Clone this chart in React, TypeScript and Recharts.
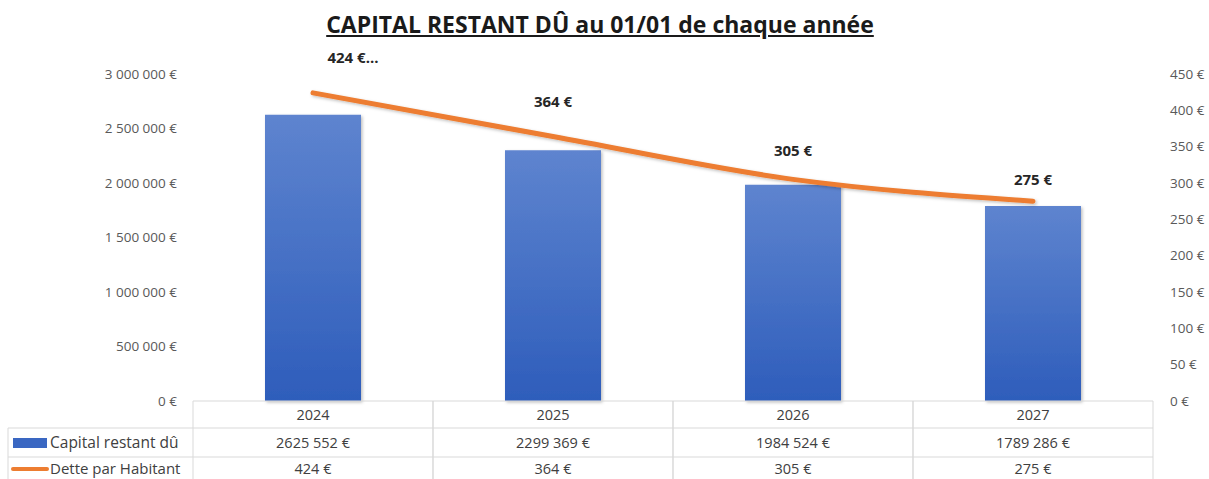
import { ComposedChart, Bar, Line, XAxis, YAxis, LabelList } from "recharts"

const years = ["2024", "2025", "2026", "2027"]
const capitalRestant = [2625552, 2299369, 1984524, 1789286]
const detteParHabitant = [424, 364, 305, 275]
const capitalTicks = [0, 500000, 1000000, 1500000, 2000000, 2500000, 3000000]
const detteTicks = [0, 50, 100, 150, 200, 250, 300, 350, 400, 450]
const capitalLabels = ["2625 552 €", "2299 369 €", "1984 524 €", "1789 286 €"]
const detteLabels = ["424 €", "364 €", "305 €", "275 €"]
const detteBubbleLabels = ["424 €...", "364 €", "305 €", "275 €"]

const data = years.map((y, i) => ({
  year: y,
  capital: capitalRestant[i],
  dette: detteParHabitant[i],
}))

const FONT = "'Open Sans', Lato, sans-serif"
const GRID = "#d9d9d9"
const BAND = 240

function groupThousands(v: number) {
  return String(v).replace(/\B(?=(\d{3})+(?!\d))/g, " ")
}

// draws the data table under the plot, one column per category tick
function TableTick(props: any) {
  const { x, y, payload, index } = props
  const left = x - BAND / 2
  const right = x + BAND / 2
  const r1 = y + 27
  const r2 = y + 56
  const bottom = y + 80
  return (
    <g>
      <line x1={left} x2={right} y1={y} y2={y} stroke={GRID} />
      <line x1={left} x2={right} y1={r1} y2={r1} stroke={GRID} />
      <line x1={left} x2={right} y1={r2} y2={r2} stroke={GRID} />
      <line x1={left} x2={left} y1={y} y2={bottom} stroke={GRID} />
      <line x1={right} x2={right} y1={y} y2={bottom} stroke={GRID} />
      <text x={x} y={y + 19} textAnchor="middle" fontSize={14.5} fill="#404040" fontFamily={FONT}>
        {payload.value}
      </text>
      <text x={x} y={r1 + 20} textAnchor="middle" fontSize={14.5} fill="#404040" fontFamily={FONT}>
        {capitalLabels[index]}
      </text>
      <text x={x} y={r2 + 17} textAnchor="middle" fontSize={14.5} fill="#404040" fontFamily={FONT}>
        {detteLabels[index]}
      </text>
      {index === 0 && (
        <g>
          <line x1={8} x2={left} y1={r1} y2={r1} stroke={GRID} />
          <line x1={8} x2={left} y1={r2} y2={r2} stroke={GRID} />
          <line x1={8} x2={8} y1={r1} y2={bottom} stroke={GRID} />
          <rect x={13} y={r1 + 10} width={34} height={10} fill="#3a67c2" />
          <text x={50} y={r1 + 20} fontSize={15.5} fill="#404040" fontFamily={FONT}>
            Capital restant dû
          </text>
          <line x1={13} x2={47} y1={r2 + 12} y2={r2 + 12} stroke="#ed7d31" strokeWidth={4} strokeLinecap="round" />
          <text x={50} y={r2 + 17} fontSize={15} fill="#404040" fontFamily={FONT}>
            Dette par Habitant
          </text>
        </g>
      )}
    </g>
  )
}

const labelNudge = [{ dx: 40, dy: -35 }, { dx: 0, dy: -34 }, { dx: 0, dy: -28 }, { dx: 0, dy: -21 }]

function DetteLabel(props: any) {
  const { x, y, index } = props
  const n = labelNudge[index] || { dx: 0, dy: -28 }
  return (
    <text x={x + n.dx} y={y + n.dy} dy={5} textAnchor="middle" fontSize={15} fontWeight="bold" fill="#262626" fontFamily={FONT}>
      {detteBubbleLabels[index]}
    </text>
  )
}

export default function App() {
  return (
    <div style={{ position: "absolute", left: 0, top: 0, width: 1209, height: 479, background: "#fff", overflow: "hidden" }}>
      <div
        style={{
          position: "absolute",
          left: 0,
          top: 8,
          width: 1200,
          textAlign: "center",
          fontFamily: FONT,
          fontWeight: "bold",
          fontSize: 23,
          color: "#1a1a1a",
          textDecoration: "underline",
        }}
      >
        CAPITAL RESTANT DÛ au 01/01 de chaque année
      </div>
      <ComposedChart
        width={1209}
        height={479}
        data={data}
        margin={{ top: 74, right: 6, bottom: 0, left: 93 }}
        style={{ position: "absolute", left: 0, top: 0 }}
      >
        <defs>
          <linearGradient id="barFill" x1="0" y1="0" x2="0" y2="1">
            <stop offset="0%" stopColor="#5e84cf" />
            <stop offset="100%" stopColor="#2e5dbb" />
          </linearGradient>
          <filter id="shadow" x="-10%" y="-10%" width="130%" height="130%">
            <feDropShadow dx="1.5" dy="1.5" stdDeviation="1.5" floodColor="#000" floodOpacity="0.25" />
          </filter>
        </defs>
        <XAxis
          dataKey="year"
          height={78}
          axisLine={false}
          tickLine={false}
          tickSize={0}
          tickMargin={0}
          tick={<TableTick />}
          interval={0}
        />
        <YAxis
          yAxisId="cap"
          width={100}
          domain={[0, 3000000]}
          ticks={capitalTicks}
          axisLine={false}
          tickLine={false}
          tickMargin={10}
          tickFormatter={(v: number) => groupThousands(v) + " €"}
          tick={{ fontSize: 13.5, fill: "#595959", fontFamily: FONT }}
        />
        <YAxis
          yAxisId="det"
          orientation="right"
          width={50}
          domain={[0, 450]}
          ticks={detteTicks}
          axisLine={false}
          tickLine={false}
          tickMargin={11}
          tickFormatter={(v: number) => v + " €"}
          tick={{ fontSize: 13.5, fill: "#595959", fontFamily: FONT, textAnchor: "start" }}
        />
        <Bar
          yAxisId="cap"
          dataKey="capital"
          barSize={96}
          fill="url(#barFill)"
          filter="url(#shadow)"
          isAnimationActive={false}
        />
        <Line
          yAxisId="det"
          type="monotone"
          dataKey="dette"
          stroke="#ed7d31"
          strokeWidth={5}
          strokeLinecap="round"
          dot={false}
          filter="url(#shadow)"
          isAnimationActive={false}
        >
          <LabelList dataKey="dette" content={<DetteLabel />} />
        </Line>
      </ComposedChart>
    </div>
  )
}
